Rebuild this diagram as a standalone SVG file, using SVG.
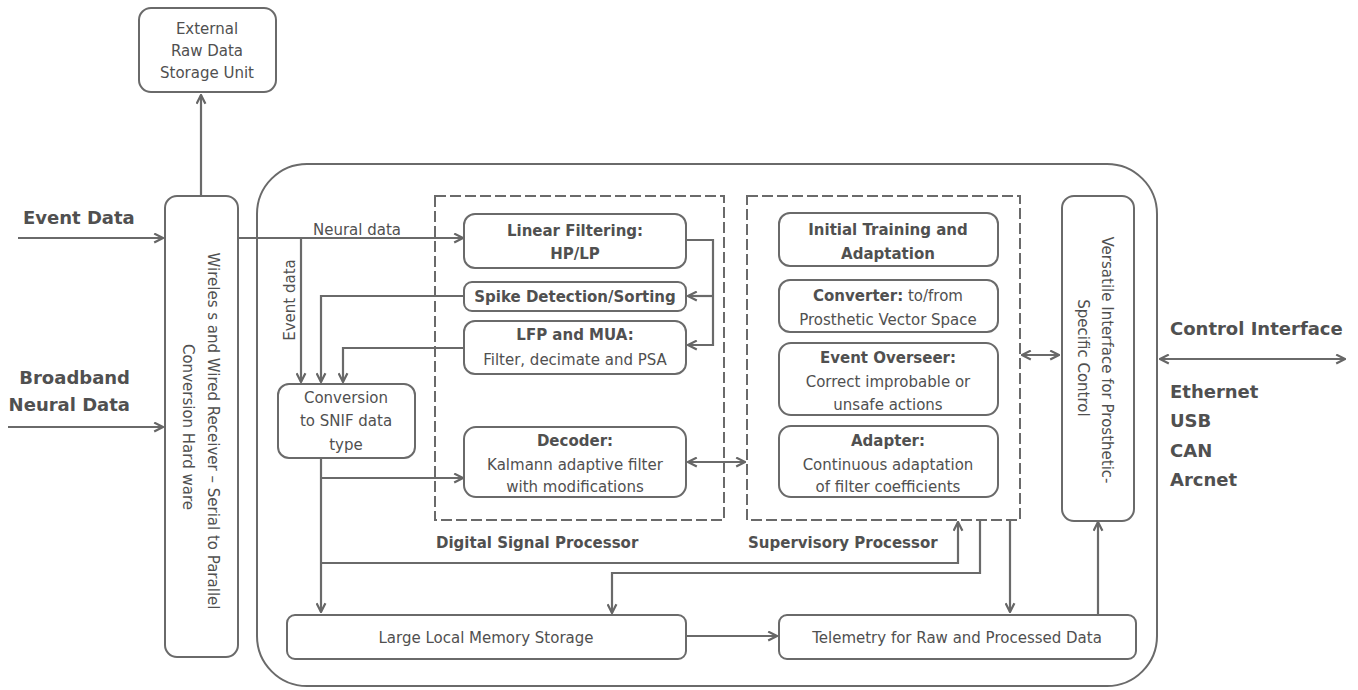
<svg xmlns="http://www.w3.org/2000/svg" width="1358" height="690" viewBox="0 0 1358 690">
<defs>
<marker id="ah" viewBox="0 0 10 10" refX="9" refY="5" markerWidth="11" markerHeight="11" markerUnits="userSpaceOnUse" orient="auto-start-reverse">
<path d="M1,1 L9,5 L1,9" fill="none" stroke="#666" stroke-width="2" stroke-linejoin="miter"/>
</marker>
<style>
.box{fill:#fff;stroke:#6a6a6a;stroke-width:2}
.dash{fill:none;stroke:#6a6a6a;stroke-width:2;stroke-dasharray:11,4}
.c{fill:none;stroke:#6a6a6a;stroke-width:2.2}
.c.e{marker-end:url(#ah)}
.c.b{marker-start:url(#ah);marker-end:url(#ah)}
text{font-family:"DejaVu Sans","Liberation Sans",sans-serif;fill:#505050;font-size:15px}
.m{text-anchor:middle}
.bd{font-weight:bold}
.big{font-size:18px;font-weight:bold}
</style>
</defs>
<rect width="1358" height="690" fill="#fff"/>

<g id="main-container">
<rect x="257" y="164" width="900" height="522" rx="50" class="box"/>
</g>

<g id="dsp">
<rect x="435" y="196" width="289" height="324" class="dash"/>
<text x="436" y="548" class="bd" font-size="16">Digital Signal Processor</text>
</g>
<g id="supervisory">
<rect x="747" y="196" width="273" height="324" class="dash"/>
<text x="748" y="548" class="bd" font-size="16">Supervisory Processor</text>
</g>

<g id="connectors">
<path class="c e" d="M201,195 V95"/>
<path class="c e" d="M18,238 H163"/>
<path class="c e" d="M8,427 H163"/>
<path class="c e" d="M238,238 H463"/>
<path class="c e" d="M301,238 V382"/>
<path class="c e" d="M464,296 H321 V382"/>
<path class="c e" d="M464,348 H343 V382"/>
<path class="c e" d="M686,240 H713 V345 H688"/>
<path class="c e" d="M713,296 H688"/>
<path class="c e" d="M321,458 V612"/>
<path class="c e" d="M321,478 H463"/>
<path class="c e" d="M321,563 H958 V522"/>
<path class="c e" d="M980,520 V573 H612 V613"/>
<path class="c e" d="M1010,520 V612"/>
<path class="c e" d="M1098,615 V522"/>
<path class="c e" d="M686,636 H777"/>
<path class="c b" d="M688,462 H745"/>
<path class="c b" d="M1022,355 H1059"/>
<path class="c b" d="M1160,359 H1345"/>
</g>

<g id="labels">
<text x="23" y="224" class="big">Event Data</text>
<text x="130" y="384" class="big" text-anchor="end">Broadband</text>
<text x="130" y="411" class="big" text-anchor="end">Neural Data</text>
<text x="313" y="235" font-size="16">Neural data</text>
<text transform="translate(290,300) rotate(-90)" class="m" dominant-baseline="central" font-size="15">Event data</text>
<text x="1170" y="335" class="big" font-size="19">Control Interface</text>
<text x="1170" y="398" class="big" font-size="17">Ethernet</text>
<text x="1170" y="427" class="big" font-size="17">USB</text>
<text x="1170" y="457" class="big" font-size="17">CAN</text>
<text x="1170" y="486" class="big" font-size="17">Arcnet</text>
</g>

<g id="external-storage">
<rect x="139" y="8" width="137" height="84" rx="12" class="box"/>
<text x="207" y="34" class="m" font-size="13">External</text>
<text x="207" y="56" class="m" font-size="13">Raw Data</text>
<text x="207" y="78" class="m" font-size="13">Storage Unit</text>
</g>

<g id="receiver">
<rect x="165" y="196" width="73" height="461" rx="12" class="box"/>
<text transform="translate(213,431) rotate(90)" class="m" dominant-baseline="central">Wireles s and Wired Receiver  –  Serial to Parallel</text>
<text transform="translate(188,427) rotate(90)" class="m" dominant-baseline="central">Conversion Hard ware</text>
</g>

<g id="conversion">
<rect x="278" y="384" width="137" height="74" rx="11" class="box"/>
<text x="346" y="403" class="m">Conversion</text>
<text x="346" y="426" class="m">to SNIF data</text>
<text x="346" y="450" class="m">type</text>
</g>

<g id="linear-filtering">
<rect x="464" y="214" width="222" height="54" rx="11" class="box"/>
<text x="575" y="236" class="m bd">Linear Filtering:</text>
<text x="575" y="259" class="m bd">HP/LP</text>
</g>

<g id="spike">
<rect x="464" y="282" width="222" height="29" rx="8" class="box"/>
<text x="575" y="302" class="m bd">Spike Detection/Sorting</text>
</g>

<g id="lfp">
<rect x="464" y="321" width="222" height="53" rx="11" class="box"/>
<text x="575" y="340" class="m bd">LFP and MUA:</text>
<text x="575" y="365" class="m">Filter, decimate and PSA</text>
</g>

<g id="decoder">
<rect x="464" y="427" width="222" height="70" rx="12" class="box"/>
<text x="575" y="446" class="m bd">Decoder:</text>
<text x="575" y="470" class="m">Kalmann adaptive filter</text>
<text x="575" y="492" class="m">with modifications</text>
</g>

<g id="initial-training">
<rect x="779" y="213" width="219" height="53" rx="11" class="box"/>
<text x="888" y="235" class="m bd">Initial Training and</text>
<text x="888" y="259" class="m bd">Adaptation</text>
</g>

<g id="converter">
<rect x="779" y="280" width="219" height="52" rx="11" class="box"/>
<text x="888" y="301" class="m"><tspan class="bd">Converter:</tspan> to/from</text>
<text x="888" y="325" class="m">Prosthetic Vector Space</text>
</g>

<g id="event-overseer">
<rect x="779" y="343" width="219" height="72" rx="12" class="box"/>
<text x="888" y="363" class="m bd">Event Overseer:</text>
<text x="888" y="387" class="m">Correct improbable or</text>
<text x="888" y="410" class="m">unsafe actions</text>
</g>

<g id="adapter">
<rect x="779" y="426" width="219" height="71" rx="12" class="box"/>
<text x="888" y="446" class="m bd">Adapter:</text>
<text x="888" y="470" class="m">Continuous adaptation</text>
<text x="888" y="492" class="m">of filter coefficients</text>
</g>

<g id="versatile-interface">
<rect x="1062" y="196" width="72" height="325" rx="12" class="box"/>
<text transform="translate(1107,360) rotate(90)" class="m" dominant-baseline="central">Versatile Interface for Prosthetic-</text>
<text transform="translate(1083,358) rotate(90)" class="m" dominant-baseline="central">Specific Control</text>
</g>

<g id="memory">
<rect x="287" y="615" width="399" height="44" rx="8" class="box"/>
<text x="486" y="643" class="m" font-size="16">Large Local Memory Storage</text>
</g>

<g id="telemetry">
<rect x="779" y="615" width="357" height="44" rx="8" class="box"/>
<text x="957" y="643" class="m" font-size="16">Telemetry for Raw and Processed Data</text>
</g>
</svg>
